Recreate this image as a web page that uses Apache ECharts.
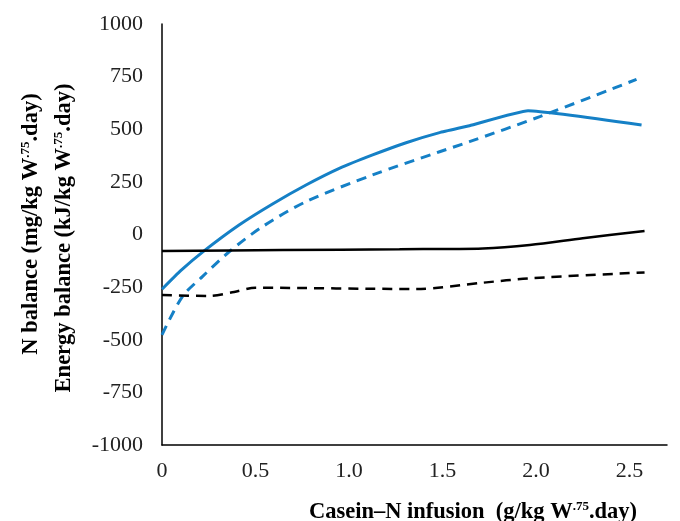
<!DOCTYPE html>
<html>
<head>
<meta charset="utf-8">
<script src="https://cdn.jsdelivr.net/npm/echarts@6/dist/echarts.min.js"></script>
<style>html,body{margin:0;padding:0;background:#fff;}#c{width:680px;height:521px;}</style>
</head>
<body>
<div id="c"></div>
<script>
// Casein-N infusion (g/kg W.75.day)
const blueSolidX = [0, 0.1, 0.225, 0.412, 0.591, 0.77, 0.948, 1.126, 1.305, 1.484, 1.644, 1.957, 2.564];
const blueSolidY = [-260, -172, -78, 45, 145, 235, 314, 378, 436, 484, 517, 588, 520];

const blueDashX = [0, 0.109, 0.216, 0.359, 0.537, 0.77, 1.126, 1.484, 1.644, 2.02, 2.537];
const blueDashY = [-477, -295, -200, -82, 37, 156, 283, 393, 441, 560, 737];

const blackSolidX = [0, 0.644, 1.27, 1.716, 1.966, 2.25, 2.58];
const blackSolidY = [-78, -74, -70, -66, -50, -18, 17];

const blackDashX = [0, 0.25, 0.386, 0.5, 1.36, 1.716, 1.966, 2.58];
const blackDashY = [-287, -292, -273, -253, -259, -229, -208, -180];

const xTickLabels = ['0', '0.5', '1.0', '1.5', '2.0', '2.5'];
const yTickLabels = ['-1000', '-750', '-500', '-250', '0', '250', '500', '750', '1000'];

const pairs = (xs, ys) => xs.map((x, i) => [x, ys[i]]);
const FONT = '"Liberation Serif", "DejaVu Serif", serif';
const BLUE = '#1580c6';

const chart = echarts.init(document.getElementById('c'), null, {renderer: 'canvas'});
const richSup = {
  b: {fontFamily: FONT, fontSize: 22.5, fontWeight: 'bold', color: '#111'},
  s: {fontFamily: FONT, fontSize: 13, fontWeight: 'bold', color: '#111', padding: [0, 0, 10, 0]}
};
chart.setOption({
  animation: false,
  backgroundColor: '#fff',
  grid: {left: 162, right: 13, top: 24, bottom: 76},
  xAxis: {
    type: 'value', min: 0, max: 2.7, interval: 0.5,
    axisLine: {onZero: false, lineStyle: {color: '#000', width: 1.5}},
    axisTick: {show: false},
    splitLine: {show: false},
    axisLabel: {
      margin: 15, fontFamily: FONT, fontSize: 22, color: '#222', showMaxLabel: false,
      formatter: v => {
        const k = Math.round(v / 0.5);
        return Math.abs(v - k * 0.5) < 1e-9 && xTickLabels[k] !== undefined ? xTickLabels[k] : '';
      }
    }
  },
  yAxis: {
    type: 'value', min: -1000, max: 1000, interval: 250,
    axisLine: {show: true, lineStyle: {color: '#000', width: 1.5}},
    axisTick: {show: false},
    splitLine: {show: false},
    axisLabel: {
      margin: 19, fontFamily: FONT, fontSize: 22, color: '#222',
      formatter: v => {
        const k = Math.round((v + 1000) / 250);
        return yTickLabels[k] !== undefined ? yTickLabels[k] : '';
      }
    }
  },
  graphic: [
    {
      type: 'text', x: 31, y: 224, rotation: Math.PI / 2,
      style: {
        text: '{b|N balance (mg/kg W}{s|.75}{b|.day)}',
        rich: richSup, align: 'center', verticalAlign: 'middle'
      }
    },
    {
      type: 'text', x: 64, y: 238, rotation: Math.PI / 2,
      style: {
        text: '{b|Energy balance (kJ/kg W}{s|.75}{b|.day)}',
        rich: richSup, align: 'center', verticalAlign: 'middle'
      }
    },
    {
      type: 'text', x: 473, y: 512,
      style: {
        text: '{b|Casein\u2013N infusion  (g/kg W}{s|.75}{b|.day)}',
        rich: richSup, align: 'center', verticalAlign: 'middle'
      }
    }
  ],
  series: [
    {type: 'line', data: pairs(blueSolidX, blueSolidY), showSymbol: false, smooth: 0.12,
     lineStyle: {color: BLUE, width: 3}},
    {type: 'line', data: pairs(blueDashX, blueDashY), showSymbol: false, smooth: 0.3,
     lineStyle: {color: BLUE, width: 3, type: [10, 7]}},
    {type: 'line', data: pairs(blackSolidX, blackSolidY), showSymbol: false, smooth: 0.3,
     lineStyle: {color: '#000', width: 2.5}},
    {type: 'line', data: pairs(blackDashX, blackDashY), showSymbol: false, smooth: 0.3,
     lineStyle: {color: '#000', width: 2.5, type: [10, 7]}}
  ]
});
</script>
</body>
</html>
